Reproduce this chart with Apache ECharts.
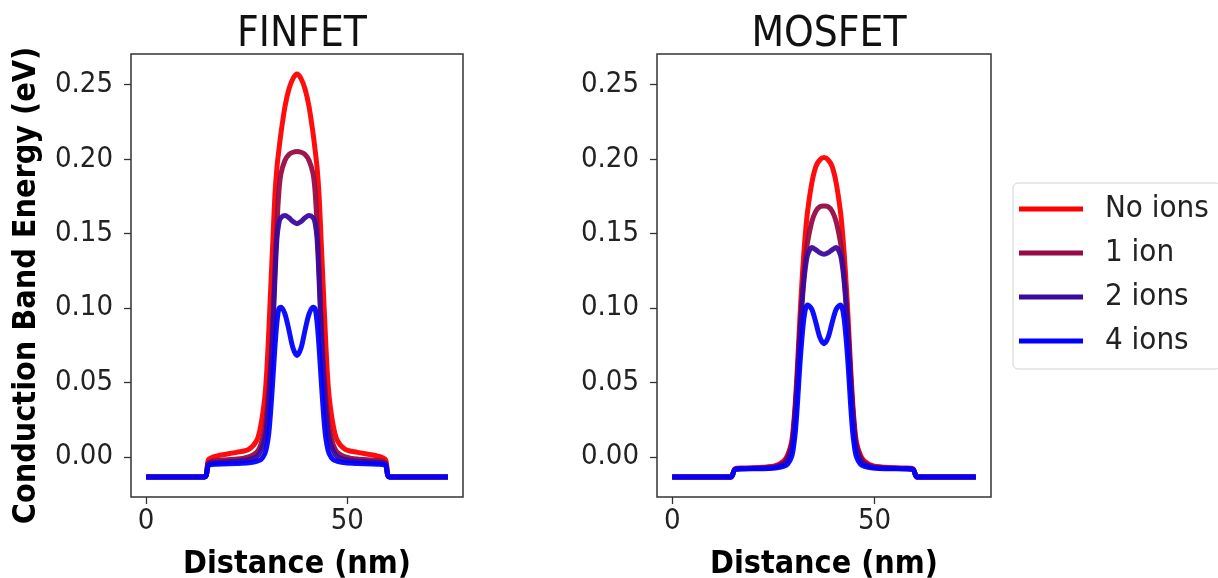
<!DOCTYPE html>
<html>
<head>
<meta charset="utf-8">
<script src="https://cdn.jsdelivr.net/npm/echarts@6/dist/echarts.min.js"></script>
<style>
  html, body { margin: 0; padding: 0; background: #fff; }
  #main { width: 1218px; height: 578px; }
</style>
</head>
<body>
<div id="main"></div>
<script>
// distance along the channel (nm)
var distance = [0, 14.5, 15.5, 17.5, 22.5, 25.5, 27.5, 28.5, 29.5, 30, 30.5, 31, 31.5, 32, 32.5, 33, 33.5, 34.5, 35.5, 36.5,
    37.5,
    38.5, 39.5, 40.5, 41.5, 42, 42.5, 43, 43.5, 44, 44.5, 45, 45.5, 46.5, 47.5, 49.5, 52.5, 57.5, 59.5, 60.5, 75];

var seriesNames = ['No ions', '1 ion', '2 ions', '4 ions'];
var seriesColors = ['#ff0000', '#960b45', '#3a0a9c', '#0000ff'];

// FINFET conduction band energy (eV)
var finNoIons = [-0.0135, -0.0135, -0.002, 0.0005, 0.003, 0.005, 0.011, 0.021, 0.040, 0.058, 0.085, 0.115, 0.145, 0.175, 0.194, 0.206, 0.217, 0.235, 0.247, 0.254,
    0.257,
    0.254, 0.247, 0.235, 0.217, 0.206, 0.194, 0.175, 0.145, 0.115, 0.085, 0.058, 0.040, 0.021, 0.011, 0.005, 0.003, 0.0005, -0.002, -0.0135, -0.0135];
var fin1Ion = [-0.0135, -0.0135, -0.004, -0.0025, -0.0015, 0.0, 0.003, 0.008, 0.019, 0.030, 0.046, 0.064, 0.092, 0.125, 0.155, 0.178, 0.190, 0.199, 0.203, 0.2045,
    0.205,
    0.2045, 0.203, 0.199, 0.190, 0.178, 0.155, 0.125, 0.092, 0.064, 0.046, 0.030, 0.019, 0.008, 0.003, 0.0, -0.0015, -0.0025, -0.004, -0.0135, -0.0135];
var fin2Ions = [-0.0135, -0.0135, -0.005, -0.0038, -0.003, -0.002, 0.0, 0.004, 0.012, 0.022, 0.036, 0.057, 0.085, 0.118, 0.146, 0.157, 0.1605, 0.162, 0.1605, 0.158,
    0.1565,
    0.158, 0.1605, 0.162, 0.1605, 0.157, 0.146, 0.118, 0.085, 0.057, 0.036, 0.022, 0.012, 0.004, 0.0, -0.002, -0.003, -0.0038, -0.005, -0.0135, -0.0135];
var fin4Ions = [-0.0135, -0.0135, -0.006, -0.005, -0.0045, -0.004, -0.003, -0.002, 0.002, 0.007, 0.016, 0.032, 0.052, 0.073, 0.090, 0.0995, 0.1005, 0.096, 0.085, 0.073,
    0.068,
    0.073, 0.085, 0.096, 0.1005, 0.0995, 0.090, 0.073, 0.052, 0.032, 0.016, 0.007, 0.002, -0.002, -0.003, -0.004, -0.0045, -0.005, -0.006, -0.0135, -0.0135];

// MOSFET conduction band energy (eV)
var mosNoIons = [-0.0135, -0.0135, -0.008, -0.0075, -0.007, -0.006, -0.003, 0.001, 0.010, 0.022, 0.040, 0.064, 0.091, 0.115, 0.136, 0.153, 0.166, 0.184, 0.195, 0.1995,
    0.201,
    0.1995, 0.195, 0.184, 0.166, 0.153, 0.136, 0.115, 0.091, 0.064, 0.040, 0.022, 0.010, 0.001, -0.003, -0.006, -0.007, -0.0075, -0.008, -0.0135, -0.0135];
var mos1Ion = [-0.0135, -0.0135, -0.0085, -0.008, -0.0075, -0.0065, -0.004, 0.0, 0.008, 0.019, 0.036, 0.058, 0.082, 0.103, 0.121, 0.135, 0.145, 0.158, 0.165, 0.168,
    0.1685,
    0.168, 0.165, 0.158, 0.145, 0.135, 0.121, 0.103, 0.082, 0.058, 0.036, 0.019, 0.008, 0.0, -0.004, -0.0065, -0.0075, -0.008, -0.0085, -0.0135, -0.0135];
var mos2Ions = [-0.0135, -0.0135, -0.0085, -0.008, -0.0075, -0.007, -0.005, -0.002, 0.006, 0.017, 0.034, 0.056, 0.080, 0.100, 0.117, 0.129, 0.136, 0.1405, 0.139, 0.137,
    0.136,
    0.137, 0.139, 0.1405, 0.136, 0.129, 0.117, 0.100, 0.080, 0.056, 0.034, 0.017, 0.006, -0.002, -0.005, -0.007, -0.0075, -0.008, -0.0085, -0.0135, -0.0135];
var mos4Ions = [-0.0135, -0.0135, -0.0085, -0.008, -0.008, -0.0075, -0.0065, -0.005, 0.0, 0.007, 0.019, 0.038, 0.060, 0.078, 0.092, 0.100, 0.102, 0.099, 0.090, 0.080,
    0.076,
    0.080, 0.090, 0.099, 0.102, 0.100, 0.092, 0.078, 0.060, 0.038, 0.019, 0.007, 0.0, -0.005, -0.0065, -0.0075, -0.008, -0.008, -0.0085, -0.0135, -0.0135];

var xTicks = [0, 50];
var yTicks = [0, 0.05, 0.1, 0.15, 0.2, 0.25];

var FONT = '"DejaVu Sans Condensed", "DejaVu Sans", sans-serif';

var myChart = echarts.init(document.getElementById('main'), null, { renderer: 'canvas' });

const makeX = (idx) => {
    return {
        type: 'value',
        gridIndex: idx,
        min: -3.75,
        max: 78.75,
        splitLine: { show: false },
        axisLine: { show: false, onZero: false },
        axisTick: { show: true, customValues: xTicks, length: 7, lineStyle: { color: '#333', width: 1.3 } },
        axisLabel: {
            customValues: xTicks, margin: 10,
            fontSize: 29, fontFamily: FONT, color: '#222'
        },
        name: 'Distance (nm)',
        nameLocation: 'middle',
        nameGap: 52,
        nameTextStyle: { fontSize: 32, fontWeight: 'bold', fontFamily: FONT, color: '#000' }
    };
};

const makeY = (idx, withName) => {
    let axis = {
        type: 'value',
        gridIndex: idx,
        min: -0.027,
        max: 0.2705,
        splitLine: { show: false },
        axisLine: { show: false, onZero: false },
        axisTick: { show: true, customValues: yTicks, length: 7, lineStyle: { color: '#333', width: 1.3 } },
        axisLabel: {
            customValues: yTicks, margin: 18,
            fontSize: 29, fontFamily: FONT, color: '#222',
            formatter: (v) => v.toFixed(2)
        }
    };
    if (withName) {
        axis.name = 'Conduction Band Energy (eV)';
        axis.nameLocation = 'middle';
        axis.nameGap = 88;
        axis.nameTextStyle = { fontSize: 32, fontWeight: 'bold', fontFamily: FONT, color: '#000', padding: [0, 20, 0, 0] };
    }
    return axis;
};

const pairs = (ys) => distance.map((x, i) => [x, ys[i]]);

const finData = [finNoIons, fin1Ion, fin2Ions, fin4Ions];
const mosData = [mosNoIons, mos1Ion, mos2Ions, mos4Ions];

let series = [];
[finData, mosData].forEach((group, g) => {
    group.forEach((ys, i) => {
        series.push({
            name: seriesNames[i],
            type: 'line',
            xAxisIndex: g,
            yAxisIndex: g,
            data: pairs(ys),
            smooth: 0.3,
            symbol: 'none',
            color: seriesColors[i],
            lineStyle: { width: 5, color: seriesColors[i], opacity: 0.95 },
            z: 2 + i
        });
    });
});

let option = {
    animation: false,
    backgroundColor: '#ffffff',
    title: [
        { text: 'FINFET', left: 297, top: 9, textAlign: 'center',
          textStyle: { fontSize: 42, fontWeight: 'normal', fontFamily: FONT, color: '#111' } },
        { text: 'MOSFET', left: 824, top: 9, textAlign: 'center',
          textStyle: { fontSize: 42, fontWeight: 'normal', fontFamily: FONT, color: '#111' } }
    ],
    grid: [
        { left: 131, top: 54, width: 332, height: 443, outerBoundsMode: 'none', containLabel: false,
          show: true, borderColor: '#333', borderWidth: 1.5, backgroundColor: 'transparent' },
        { left: 657, top: 54, width: 334, height: 443, outerBoundsMode: 'none', containLabel: false,
          show: true, borderColor: '#333', borderWidth: 1.5, backgroundColor: 'transparent' }
    ],
    legend: {
        data: seriesNames,
        orient: 'vertical',
        left: 1013,
        top: 183,
        icon: 'rect',
        itemWidth: 64,
        itemHeight: 5,
        itemGap: 12,
        padding: [10, 12, 12, 6],
        backgroundColor: '#fff',
        borderColor: '#d3d3d3',
        borderWidth: 1,
        borderRadius: 5,
        textStyle: { fontSize: 31, lineHeight: 32, fontFamily: FONT, color: '#222', padding: [0, 0, 0, 17] }
    },
    xAxis: [makeX(0), makeX(1)],
    yAxis: [makeY(0, true), makeY(1, false)],
    series: series
};

myChart.setOption(option);
</script>
</body>
</html>
